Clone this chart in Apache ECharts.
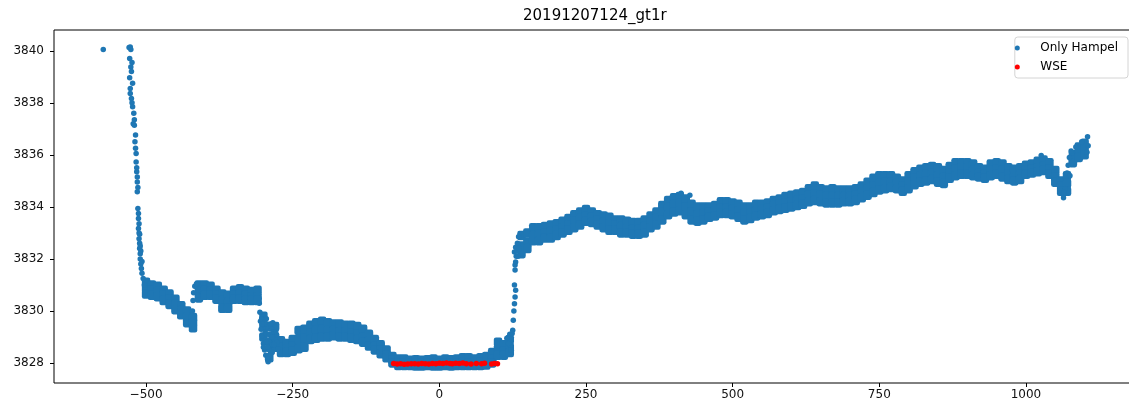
<!DOCTYPE html>
<html>
<head>
<meta charset="utf-8">
<script src="https://cdn.jsdelivr.net/npm/echarts@6/dist/echarts.min.js"></script>
<style>
html,body{margin:0;padding:0;background:#fff;}
#chart{width:1129px;height:407px;}
</style>
</head>
<body>
<div id="chart"></div>
<script>
// ---- Data ----
const chartTitle = '20191207124_gt1r';
const seriesNames = ['Only Hampel', 'WSE'];
const xTicks = [-500, -250, 0, 250, 500, 750, 1000];
const yTicks = [3828, 3830, 3832, 3834, 3836, 3838, 3840];

// Main "Only Hampel" band: for each x, the upper, middle and lower readings of the dot band
const hampelX = [-500,-490,-480,-470,-460,-450,-440,-430,-420,-410,-400,-390,-380,-370,-360,-350,-340,-330,-320,-310,
  -300,-290,-280,-270,-260,-250,-240,-230,-220,-210,-200,
  -190,-180,-170,-160,-150,-140,-130,-120,-110,-100,
  -90,-80,-70,-60,-50,-40,-30,-20,-10,0,
  10,20,30,40,50,60,70,80,90,100,110,120,
  140,150,160,170,180,190,200,210,220,230,
  240,250,260,270,280,290,300,310,320,330,
  340,350,360,370,380,390,400,410,420,430,
  440,450,460,470,480,490,500,510,520,530,
  540,550,560,570,580,590,600,610,620,630,
  640,650,660,670,680,690,700,710,720,730,
  740,750,760,770,780,790,800,810,820,830,
  840,850,860,870,880,890,900,910,920,930,
  940,950,960,970,980,990,1000,1010,1020,1030,
  1040,1050,1060,1070,1080,1090,1100];
const hampelHi = [3831.1,3831.0,3830.95,3830.8,3830.65,3830.45,3830.2,3830.0,3829.75,3831.0,3831.0,3830.95,3830.8,3830.65,3830.6,3830.8,3830.85,3830.8,3830.75,3830.8,
  3829.8,3829.4,3829.4,3828.85,3828.75,3828.9,3829.25,3829.3,3829.45,3829.55,3829.6,
  3829.55,3829.5,3829.5,3829.45,3829.45,3829.4,3829.3,3829.1,3828.9,3828.7,
  3828.5,3828.25,3828.15,3828.15,3828.1,3828.12,3828.1,3828.12,3828.15,3828.1,
  3828.15,3828.12,3828.15,3828.2,3828.2,3828.15,3828.2,3828.25,3828.4,3828.8,3828.7,3828.9,
  3832.9,3833.0,3833.2,3833.2,3833.25,3833.3,3833.35,3833.45,3833.55,3833.7,
  3833.8,3833.9,3833.8,3833.7,3833.65,3833.6,3833.5,3833.5,3833.45,3833.4,
  3833.4,3833.5,3833.65,3833.8,3834.05,3834.25,3834.35,3834.4,3834.3,3834.1,
  3834.0,3834.0,3834.0,3834.05,3834.2,3834.2,3834.15,3834.1,3834.0,3834.0,
  3834.1,3834.1,3834.15,3834.25,3834.3,3834.4,3834.45,3834.5,3834.55,3834.7,
  3834.8,3834.7,3834.65,3834.7,3834.65,3834.65,3834.65,3834.7,3834.8,3834.95,
  3835.1,3835.2,3835.2,3835.2,3835.1,3835.0,3835.2,3835.35,3835.45,3835.5,
  3835.55,3835.5,3835.4,3835.55,3835.7,3835.7,3835.7,3835.65,3835.5,3835.45,
  3835.65,3835.7,3835.65,3835.5,3835.45,3835.5,3835.6,3835.65,3835.75,3835.8,
  3835.7,3835.4,3835.0,3835.2,3836.0,3836.3,3836.45];
const hampelMid = [3830.88,3830.8,3830.75,3830.6,3830.45,3830.25,3830.02,3829.78,3829.55,3830.75,3830.8,3830.75,3830.6,3830.4,3830.35,3830.6,3830.65,3830.6,3830.55,3830.55,
  3829.4,3828.8,3829.0,3828.6,3828.55,3828.65,3828.9,3828.95,3829.15,3829.25,3829.3,
  3829.25,3829.25,3829.2,3829.2,3829.15,3829.1,3829.0,3828.85,3828.65,3828.5,
  3828.3,3828.1,3828.0,3828.0,3828.0,3827.98,3827.99,3827.98,3828.0,3827.98,
  3828.0,3827.99,3828.0,3828.02,3828.0,3828.02,3828.03,3828.05,3828.15,3828.55,3828.45,3828.6,
  3832.5,3832.65,3832.9,3832.95,3833.0,3833.05,3833.1,3833.2,3833.3,3833.45,
  3833.55,3833.65,3833.6,3833.5,3833.4,3833.35,3833.3,3833.25,3833.2,3833.15,
  3833.15,3833.25,3833.4,3833.55,3833.8,3834.0,3834.1,3834.15,3834.0,3833.8,
  3833.7,3833.75,3833.8,3833.85,3833.95,3833.95,3833.9,3833.85,3833.75,3833.75,
  3833.85,3833.9,3833.95,3834.05,3834.1,3834.15,3834.2,3834.25,3834.3,3834.45,
  3834.5,3834.45,3834.4,3834.4,3834.4,3834.4,3834.4,3834.45,3834.55,3834.7,
  3834.8,3834.9,3834.95,3834.95,3834.9,3834.8,3834.95,3835.1,3835.2,3835.25,
  3835.3,3835.2,3835.15,3835.3,3835.45,3835.5,3835.5,3835.4,3835.3,3835.25,
  3835.4,3835.45,3835.4,3835.25,3835.2,3835.25,3835.4,3835.45,3835.5,3835.55,
  3835.45,3835.15,3834.8,3834.9,3835.8,3836.05,3836.2];
const hampelLo = [3830.65,3830.6,3830.55,3830.4,3830.25,3830.05,3829.85,3829.55,3829.35,3830.5,3830.6,3830.6,3830.45,3830.1,3830.1,3830.45,3830.45,3830.4,3830.4,3830.4,
  3829.0,3828.2,3828.6,3828.4,3828.4,3828.45,3828.55,3828.6,3828.9,3828.95,3829.0,
  3829.0,3829.05,3829.0,3829.0,3828.95,3828.9,3828.8,3828.65,3828.5,3828.35,
  3828.2,3828.0,3827.9,3827.9,3827.9,3827.88,3827.88,3827.9,3827.88,3827.88,
  3827.9,3827.88,3827.9,3827.9,3827.9,3827.9,3827.9,3827.92,3828.0,3828.3,3828.3,3828.4,
  3832.2,3832.4,3832.7,3832.7,3832.8,3832.8,3832.9,3833.0,3833.1,3833.2,
  3833.3,3833.45,3833.4,3833.3,3833.2,3833.1,3833.1,3833.0,3833.0,3832.95,
  3832.95,3833.0,3833.2,3833.3,3833.5,3833.7,3833.8,3833.85,3833.7,3833.5,
  3833.45,3833.5,3833.6,3833.65,3833.75,3833.75,3833.7,3833.6,3833.5,3833.55,
  3833.65,3833.7,3833.75,3833.85,3833.9,3833.95,3834.0,3834.05,3834.1,3834.2,
  3834.25,3834.2,3834.15,3834.15,3834.15,3834.2,3834.2,3834.25,3834.35,3834.45,
  3834.55,3834.65,3834.7,3834.75,3834.7,3834.6,3834.7,3834.85,3834.95,3835.0,
  3835.05,3834.95,3834.9,3835.1,3835.2,3835.25,3835.25,3835.2,3835.15,3835.1,
  3835.2,3835.25,3835.15,3835.05,3835.0,3835.05,3835.25,3835.3,3835.35,3835.4,
  3835.25,3834.95,3834.6,3834.6,3835.7,3835.9,3836.0];

// Individual "Only Hampel" points (steep drop, jumps, outliers)
const hampelExtraX = [-573,
  -529,-527,-526,-528,-524,-526,-525,-528,-523,-527,-527,-525,-524,-523,-521,-520,-522,-520,-518,-519,-518,-517,-517,-516,-516,-515,-515,-514,-515,
  -514,-513,-513,-512,-513,-511,-512,-511,-511,-510,-510,-509,-508,-507,-505,-503,-512,-510,-509,-507,
  -421,-420,-419,-417,-414,-412,
  -307,-306,-305,-304,-303,-302,-300,-298,-297,-296,-295,-294,-293,-292,-291,-290,-288,-287,-286,-285,-284,-283,-281,-279,-277,-275,
  -300,-295,-290,-290,-285,-285,-282,-295,-298,-302,-293,-288,
  115,118,120,122,124,125,126,127,128,129,130,128,129,129,130,128,130,132,134,133,135,136,131,
  412,427,
  1026,1064,1067,1070,1072,1074,1077,1085,1095,1105,1104,1106,1075,1065];
const hampelExtraY = [3840.05,
  3840.13,3840.15,3840.05,3839.7,3839.55,3839.38,3839.2,3838.96,3838.75,3838.55,3838.36,3838.17,3838.0,3837.85,3837.6,3837.35,3837.2,3837.14,3836.76,3836.5,3836.25,3836.05,3835.73,3835.5,3835.35,3835.15,3834.96,3834.75,3834.58,
  3833.94,3833.75,3833.55,3833.35,3833.17,3832.95,3832.78,3832.6,3832.4,3832.2,3832.0,3831.8,3831.63,3831.45,3831.25,3831.0,3833.0,3832.5,3832.3,3831.9,
  3830.0,3830.4,3830.7,3830.95,3831.05,3830.6,
  3830.3,3829.95,3829.6,3829.3,3829.7,3829.05,3828.75,3828.5,3829.2,3828.3,3828.8,3829.5,3828.15,3828.05,3828.55,3829.1,3828.45,3829.0,3829.3,3828.7,3829.55,3829.2,3828.9,3829.2,3828.8,3828.55,
  3828.6,3829.1,3829.1,3828.5,3828.4,3829.0,3828.7,3829.7,3829.55,3829.5,3828.6,3829.5,
  3828.95,3828.75,3829.1,3828.5,3829.13,3829.26,3829.64,3830.0,3830.28,3830.54,3830.8,3831.0,3831.57,3831.77,3831.88,3832.27,3832.45,3832.3,3832.1,3832.6,3832.85,3832.4,3832.1,
  3834.52,3834.45,
  3835.98,3834.35,3834.7,3835.3,3835.6,3835.9,3836.15,3836.3,3836.5,3836.7,3836.1,3836.35,3835.2,3834.55];

// "WSE" points
const wseX = [-78,-72,-66,-60,-54,-48,-42,-36,-30,-24,-18,-12,-6,0,6,12,18,22,28,34,40,46,54,63,72,77,89,94,99];
const wseY = [3827.98,3827.96,3827.97,3827.95,3827.96,3827.97,3827.97,3827.96,3827.98,3827.97,3827.96,3827.98,3827.97,3827.99,3827.98,3828.0,3827.98,3827.97,3827.99,3827.98,3828.0,3827.97,3827.96,3827.98,3827.97,3827.99,3827.96,3827.98,3827.97];

// ---- Build series data ----
// the band readings stand for many overlapping dots in the original, so they get a wider, taller mark
const BAND_SIZE = [8.5, 9.5];
const SINGLE_DOT = 5.5;
const bandData = [];
hampelX.forEach((x, i) => {
  bandData.push([x, hampelHi[i]], [x, hampelMid[i]], [x, hampelLo[i]]);
});
const singleData = hampelExtraX.map((x, i) => [x, hampelExtraY[i]]);
const wseData = wseX.map((x, i) => [x, wseY[i]]);

const FONT = 'DejaVu Sans';
const fmtMinus = v => (v < 0 ? '\u2212' + Math.abs(v) : String(v));
const BLUE = '#1f77b4';

const chart = echarts.init(document.getElementById('chart'), null, {renderer: 'canvas'});
chart.setOption({
  animation: false,
  backgroundColor: '#ffffff',
  title: {
    text: chartTitle,
    left: 523, top: 9, padding: 0,
    textStyle: {fontFamily: FONT, fontSize: 15, fontWeight: 'normal', color: '#000'}
  },
  legend: {
    data: [{name: seriesNames[0], icon: 'circle'}, {name: seriesNames[1], icon: 'circle'}],
    orient: 'vertical',
    right: 1, top: 37,
    itemWidth: 36, itemHeight: 5, itemGap: 5,
    padding: [4, 10, 4, 0],
    backgroundColor: '#ffffff',
    borderColor: '#d4d4d4', borderWidth: 1, borderRadius: 3,
    selectedMode: false,
    textStyle: {fontFamily: FONT, fontSize: 12, color: '#000', lineHeight: 14}
  },
  grid: {
    left: 54, right: -9, top: 30, bottom: 24,
    show: true, borderColor: '#000', borderWidth: 1, backgroundColor: 'transparent',
    containLabel: false, outerBoundsMode: 'none'
  },
  xAxis: {
    type: 'value', min: -657, max: 1191,
    axisLine: {show: false, onZero: false},
    splitLine: {show: false},
    axisTick: {show: true, length: 4, customValues: xTicks, lineStyle: {color: '#000', width: 1}},
    axisLabel: {customValues: xTicks, margin: 6, formatter: fmtMinus, fontFamily: FONT, fontSize: 12, color: '#111'}
  },
  yAxis: {
    type: 'value', min: 3827.23, max: 3840.8,
    axisLine: {show: false, onZero: false},
    splitLine: {show: false},
    axisTick: {show: true, length: 4, customValues: yTicks, lineStyle: {color: '#000', width: 1}},
    axisLabel: {customValues: yTicks, margin: 10, formatter: v => String(v), fontFamily: FONT, fontSize: 12, color: '#111'}
  },
  series: [
    {name: seriesNames[0], type: 'scatter', data: bandData, symbol: 'roundRect', symbolSize: BAND_SIZE,
     itemStyle: {color: BLUE, opacity: 1}, emphasis: {disabled: true}, silent: true, z: 2},
    {name: seriesNames[0], type: 'scatter', data: singleData, symbol: 'circle', symbolSize: SINGLE_DOT,
     itemStyle: {color: BLUE, opacity: 1}, emphasis: {disabled: true}, silent: true, z: 2},
    {name: seriesNames[1], type: 'scatter', data: wseData, symbol: 'circle', symbolSize: SINGLE_DOT,
     itemStyle: {color: '#ff0000', opacity: 1}, emphasis: {disabled: true}, silent: true, z: 3}
  ]
});
</script>
</body>
</html>
